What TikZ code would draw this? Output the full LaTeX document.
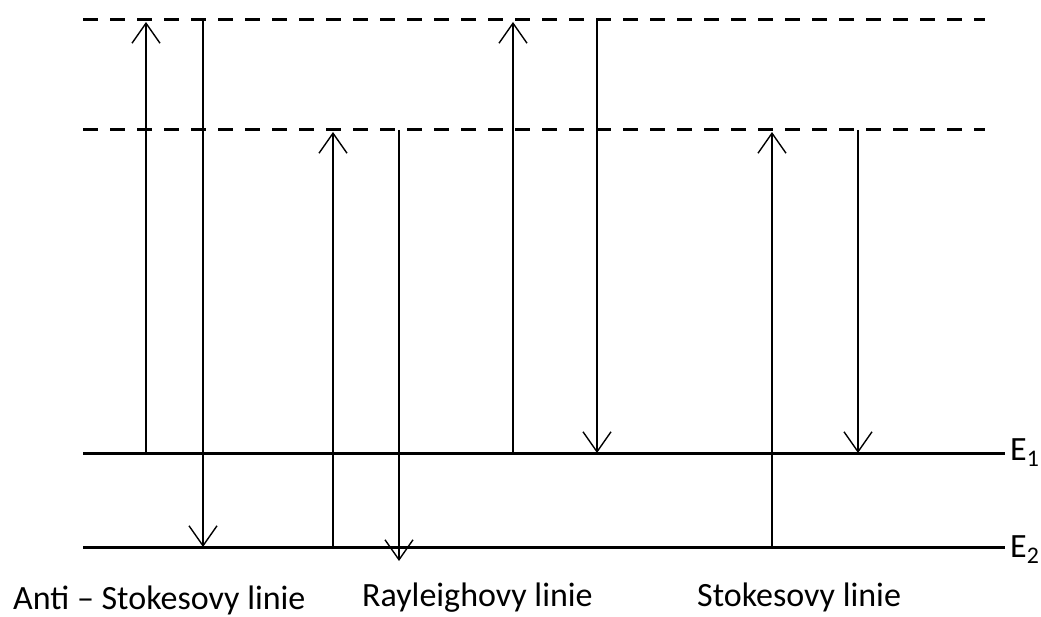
\documentclass[tikz,border=0pt]{standalone}
\usepackage{fontspec}
\setmainfont{Carlito}
\usetikzlibrary{arrows.meta}
\begin{document}
\begin{tikzpicture}[x=1pt, y=-1pt,
  level/.style = {line width=3pt},
  virtual/.style = {line width=3pt, dash pattern=on 15pt off 12pt},
  trans/.style = {line width=1.4pt, -{Straight Barb[length=20pt, width=28pt, line width=1.4pt]}},
  lbl/.style = {font=\fontsize{34}{40}\selectfont, inner sep=0pt, anchor=base west}]
  \useasboundingbox (0,0) rectangle (1041,617);

  % levels
  \coordinate (v2a) at (83,20);  \coordinate (v2b) at (985,20);
  \coordinate (v1a) at (83,130); \coordinate (v1b) at (985,130);
  \coordinate (e1a) at (83,453); \coordinate (e1b) at (1005,453);
  \coordinate (e2a) at (83,547); \coordinate (e2b) at (1005,547);
  \draw[virtual] (v2a) -- (v2b);
  \draw[virtual] (v1a) -- (v1b);
  \draw[level] (e1a) -- (e1b);
  \draw[level] (e2a) -- (e2b);
  \node[lbl] (E1) at (1010,460) {E\textsubscript{1}};
  \node[lbl] (E2) at (1010,557) {E\textsubscript{2}};

  % anti-Stokes
  \coordinate (a1) at (146,453); \coordinate (a2) at (146,22);
  \coordinate (a3) at (203,20);  \coordinate (a4) at (203,547);
  \draw[trans] (a1) -- (a2);
  \draw[trans] (a3) -- (a4);

  % Rayleigh
  \coordinate (r1) at (333,547); \coordinate (r2) at (333,132);
  \coordinate (r3) at (399,130); \coordinate (r4) at (399,561);
  \draw[trans] (r1) -- (r2);
  \draw[trans] (r3) -- (r4);
  \coordinate (r5) at (513,453); \coordinate (r6) at (513,22);
  \coordinate (r7) at (597,20);  \coordinate (r8) at (597,453);
  \draw[trans] (r5) -- (r6);
  \draw[trans] (r7) -- (r8);

  % Stokes
  \coordinate (s1) at (772,547); \coordinate (s2) at (772,132);
  \coordinate (s3) at (858,130); \coordinate (s4) at (858,453);
  \draw[trans] (s1) -- (s2);
  \draw[trans] (s3) -- (s4);

  \node[lbl] (anti) at (13,609) {Anti – Stokesovy linie};
  \node[lbl] (ray) at (362,606) {Rayleighovy linie};
  \node[lbl] (stokes) at (697,606) {Stokesovy linie};
\end{tikzpicture}
\end{document}
